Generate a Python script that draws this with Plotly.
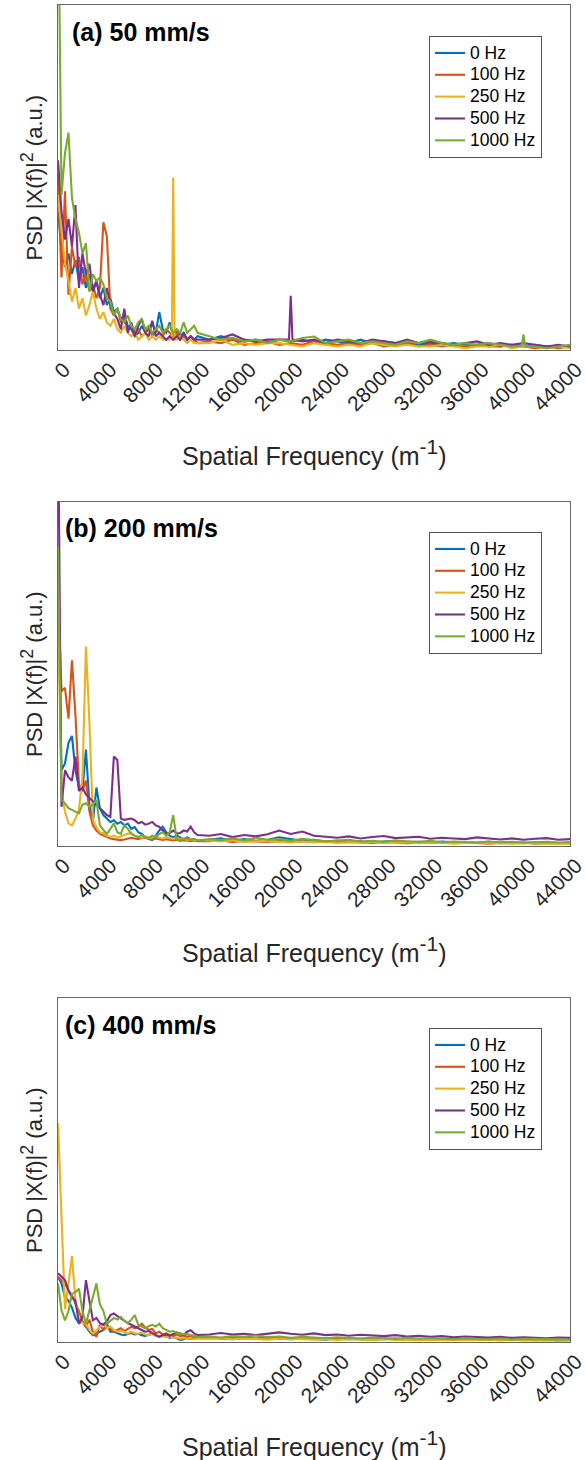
import plotly.graph_objects as go

# ---------------- data ----------------
x_near = [0, 300, 600, 900, 1200, 1500, 1800, 2100, 2400, 2700, 3000, 3300, 3600, 3900,
          4200, 4500, 4800, 5100, 5400, 5700, 6000, 6300, 6600, 6900, 7200, 7500, 7800,
          8100, 8400, 8700, 9000, 9300, 9600, 9900, 10200, 10500, 10800, 11100, 11400,
          11700, 12000]
x_far = [13000, 14000, 15000, 16000, 17000, 18000, 19000, 20000, 21000, 22000, 23000,
         24000, 25000, 26000, 27000, 28000, 29000, 30000, 31000, 32000, 33000, 34000,
         35000, 36000, 37000, 38000, 39000, 40000, 41000, 42000, 43000, 44000]
x_ticks = [0, 4000, 8000, 12000, 16000, 20000, 24000, 28000, 32000, 36000, 40000, 44000]
series_names = ["0 Hz", "100 Hz", "250 Hz", "500 Hz", "1000 Hz"]
colors = ["#0072BD", "#D95319", "#EDB120", "#7E2F8E", "#77AC30"]
panel_titles = ["(a) 50 mm/s", "(b) 200 mm/s", "(c) 400 mm/s"]

# panel (a) 50 mm/s
a_blue_near = [40, 30, 24, 28, 22, 26, 20, 24, 18, 22, 17, 20, 15, 18, 13, 15, 11, 12, 9, 10, 7, 6, 4, 5, 7, 5, 6, 8, 5, 11, 6, 5, 8, 4, 6, 4, 5, 3, 4, 3, 4]
a_orange_near = [50, 21, 46, 16, 30, 24, 27, 19, 22, 17, 19, 15, 18, 37, 33, 12, 10, 12, 8, 9, 6, 7, 5, 6, 4, 5, 7, 4, 6, 5, 4, 6, 5, 4, 5, 3, 4, 3, 4, 3, 2]
a_yellow_near = [45, 35, 25, 20, 14, 18, 12, 15, 10, 13, 17, 12, 9, 11, 8, 7, 9, 6, 5, 7, 5, 4, 5, 3, 4, 5, 3, 4, 3, 4, 3, 3, 3, 50, 3, 4, 3, 2, 3, 2, 2]
a_purple_near = [55, 40, 32, 38, 30, 42, 18, 28, 22, 25, 17, 20, 16, 13, 18, 13, 10.6, 9, 6, 12, 5, 8, 4, 7, 9, 5, 4, 8.5, 4, 5, 4, 3, 4, 3, 4, 3, 5, 3, 4, 3, 3]
a_green_near = [140, 45, 57, 63, 44, 38, 34, 28, 31, 17, 22, 20, 21, 19, 15, 14, 10, 12, 9, 8, 10, 7, 6, 8, 9, 6, 7, 5, 6, 7, 5, 6, 7, 5, 6, 5, 8, 5, 6, 7, 5]
a_blue_far = [3, 4, 3, 2.5, 3, 2, 3, 2.5, 3, 2, 3, 2.5, 2, 3, 2, 2.5, 2, 2, 1.5, 2, 1.5, 2, 1.5, 1.5, 2, 1, 1.5, 1, 1.5, 1, 1, 1]
a_orange_far = [2.5, 2, 3, 1.5, 2, 2.5, 1.5, 2, 1.5, 2.5, 2, 1.5, 2, 1.5, 2, 1, 1.5, 2, 1, 1.5, 1, 1.5, 1, 1.5, 1, 1, 1.5, 1, 0.5, 1, 0.5, 1]
a_yellow_far = [2, 3, 1.5, 2, 1.5, 2, 2, 1.5, 1, 2, 1.5, 1, 1.5, 1, 2, 1.5, 1, 1.5, 1, 1, 1.5, 1, 0.5, 1, 1, 1.5, 0.5, 1, 1, 0.5, 1, 0.5]
a_purple_far = [3, 3.5, 4.5, 3, 2.5, 3, 3, 15.7, 2.5, 3, 2, 3, 2.5, 2, 3, 2.5, 2, 3, 2, 2.5, 2, 1.5, 2, 2.5, 1.5, 2, 1.5, 2, 1.5, 1, 1.5, 1]
a_green_far = [4, 3, 3.5, 2.5, 3, 2, 3, 2.5, 3.5, 3.9, 2, 2.5, 3, 2, 2.5, 2, 1.5, 2.5, 2, 3, 2, 1.5, 2, 1.5, 2, 1.5, 1, 4.5, 1, 0.5, 1, 1.5]
a_yellow_spike_x = [9780, 10020]
a_yellow_spike_y = [3.5, 3]
a_purple_spike_x = [19850, 20150]
a_purple_spike_y = [3, 3]
a_green_spike_x = [39850, 40150]
a_green_spike_y = [1.2, 1]

# panel (b) 200 mm/s
b_blue_near = [80, 22, 24, 30, 32, 22, 17, 16, 28, 12, 7, 17, 11, 9, 8, 7, 7.5, 6.5, 7, 6, 6.5, 5, 5.5, 4, 3.5, 2.5, 2, 1.7, 3, 4.5, 5.6, 4, 3, 2.5, 3, 2.5, 2, 2.5, 2, 2, 1.5]
b_orange_near = [75, 45, 46, 37, 54, 38, 18, 16, 19, 10, 6, 4.5, 3.5, 3, 2.7, 2.2, 2, 1.8, 1.7, 1.9, 2.1, 2.4, 2.2, 2, 2.3, 2.5, 2.1, 1.9, 2.2, 2, 1.8, 2, 1.7, 1.6, 1.8, 1.5, 1.7, 1.5, 1.4, 1.6, 1.4]
b_yellow_near = [70, 16, 10, 6.6, 6, 8, 10.5, 20, 58, 36, 7.6, 5.5, 4, 3.7, 3, 2.7, 3, 2.5, 2.8, 3.2, 3.6, 3.7, 3, 2.7, 2.4, 2.8, 2.3, 2.5, 2.8, 2.4, 2.2, 2.5, 2.3, 2.1, 2.4, 2, 2.2, 1.8, 2, 1.7, 1.8]
b_purple_near = [130, 11.4, 22, 20, 19, 26, 16, 17, 15, 14, 13, 12, 11, 10, 9, 8.5, 26, 25, 8, 7.6, 7.8, 8, 7.5, 6.6, 7, 6.2, 6.5, 7, 6, 5.6, 4.5, 3.6, 3.8, 4.5, 3.6, 3.8, 4.5, 4.2, 5.6, 4, 3.2]
b_green_near = [87, 13.4, 12.4, 11, 10.5, 10, 9.5, 12, 12.4, 11.4, 12, 13.4, 6, 4.7, 3.5, 5, 6.6, 4, 3.5, 6, 5, 3.5, 3, 2.5, 3.2, 2.6, 2.4, 3, 2.5, 3.5, 4, 3, 4, 9, 2, 1.7, 2, 2.2, 1.8, 2, 1.6]
b_blue_far = [1.8, 2.2, 1.5, 2, 1.5, 1.8, 2.5, 2, 1.5, 1.8, 1.3, 1.5, 1.2, 1.4, 1, 1.3, 1.5, 1.1, 1.2, 1, 1.3, 1.1, 0.9, 1, 1.2, 0.9, 1, 0.8, 1, 0.9, 0.8, 1]
b_orange_far = [1.4, 1.6, 1.2, 1.5, 1.3, 1.2, 1.5, 1.2, 1.4, 1.1, 1.3, 1, 1.2, 1.1, 0.9, 1.2, 1, 0.8, 1, 0.9, 1.1, 0.8, 1, 0.9, 0.7, 0.9, 0.8, 1, 0.7, 0.8, 0.7, 0.8]
b_yellow_far = [1.6, 1.3, 1.7, 1.2, 1.4, 1.5, 1.2, 1, 1.3, 1.1, 1.2, 0.9, 1.1, 1, 1.2, 0.9, 1, 1.1, 0.8, 1, 0.9, 0.7, 0.9, 1, 0.8, 0.9, 0.7, 0.8, 0.9, 0.7, 0.8, 0.7]
b_purple_far = [3, 3.5, 2.6, 3.2, 2.8, 3.4, 4.5, 3.5, 4.2, 3, 2.7, 2.4, 2.8, 2.2, 2.6, 2.9, 2.3, 2.5, 2.7, 2.1, 2.4, 2.2, 2, 2.5, 2.1, 1.9, 2.2, 1.8, 2.1, 2.3, 1.8, 2]
b_green_far = [2, 1.7, 2.2, 1.6, 2.4, 1.8, 2, 1.5, 2.1, 1.7, 1.4, 1.6, 1.8, 1.3, 1.5, 1.2, 1.6, 1.4, 1.2, 1.5, 1.1, 1.3, 1.2, 1, 1.3, 1.1, 1.2, 1, 1.1, 1.2, 1, 1.1]

# panel (c) 400 mm/s
c_blue_near = [19, 17, 13, 12, 10, 7, 5.5, 6, 4.5, 3, 2, 2.5, 3, 3.5, 5.3, 3, 3, 2.5, 2.2, 2, 2.3, 2.6, 2.2, 2.4, 2, 1.8, 2.1, 2.4, 1.8, 1.6, 2, 1.7, 1.2, 1.5, 1, 0.6, 0.8, 1.1, 0.9, 1, 1.1]
c_orange_near = [19, 18, 17, 15, 13.6, 11, 9, 6, 4.4, 6.5, 3, 1.5, 5, 3.5, 4.4, 3.8, 3, 3.5, 4, 3.2, 3.8, 4.4, 4, 4.5, 5.3, 4.2, 3.5, 3.8, 2.5, 3, 2.2, 2.6, 2, 1.8, 2.2, 1.7, 1.9, 1.5, 1.8, 1.3, 1.2]
c_yellow_near = [63.6, 35, 9.5, 17, 25, 12, 6.3, 5.5, 5.3, 3.5, 2.4, 3.4, 4.5, 5.3, 4, 4.5, 3.5, 3, 3.3, 2.8, 2.4, 3, 2.5, 2.4, 2.8, 2.2, 2, 2.3, 1.8, 1.5, 1.7, 1.4, 1.6, 1.2, 1.3, 1, 1.2, 0.9, 1, 0.8, 1]
c_purple_near = [20, 19, 18, 15, 13, 12, 5.3, 7.3, 18, 12, 6.3, 7, 5.5, 5, 6, 7.8, 8.3, 7.5, 6.8, 6.3, 5.5, 5, 4.4, 4, 3.5, 3, 3.2, 2.6, 2, 1.5, 2, 2.2, 1.8, 2.4, 2.8, 2.5, 2, 3, 3.4, 2.5, 2]
c_green_near = [17, 9.2, 6.3, 9, 14, 14.5, 15.5, 9, 5.3, 9, 13, 17, 11, 9, 5.3, 6.3, 7, 6.5, 7.3, 6.2, 5.5, 6.5, 7.8, 5, 4.5, 4, 4.6, 5, 4.5, 5.3, 4, 3.5, 3, 3.2, 2.6, 2.5, 2.2, 2.3, 2, 1.8, 1.5]
c_blue_far = [1.2, 1, 0.8, 1.1, 0.9, 1.2, 1, 0.8, 1, 0.9, 0.7, 1, 0.8, 0.9, 0.7, 0.8, 1, 0.7, 0.8, 0.6, 0.8, 0.7, 0.6, 0.8, 0.7, 0.5, 0.7, 0.6, 0.7, 0.5, 0.6, 0.5]
c_orange_far = [1.4, 1.1, 1.5, 1.2, 1, 1.3, 1.1, 0.9, 1.2, 1, 1.1, 0.8, 1, 0.9, 0.7, 1, 0.8, 0.9, 0.7, 0.8, 0.6, 0.8, 0.7, 0.6, 0.8, 0.6, 0.7, 0.5, 0.6, 0.7, 0.5, 0.6]
c_yellow_far = [0.9, 1.1, 0.8, 1, 0.9, 0.7, 1, 0.8, 0.9, 0.7, 0.8, 0.6, 0.8, 0.7, 0.6, 0.8, 0.6, 0.7, 0.5, 0.7, 0.6, 0.5, 0.7, 0.6, 0.5, 0.6, 0.5, 0.6, 0.4, 0.5, 0.6, 0.5]
c_purple_far = [2.2, 2.6, 2.2, 2.4, 2, 2.5, 2.8, 2.4, 2.1, 2.5, 2, 2.2, 1.8, 2.1, 1.9, 1.7, 2, 1.6, 1.8, 1.5, 1.7, 1.4, 1.6, 1.5, 1.3, 1.5, 1.2, 1.4, 1.3, 1.1, 1.3, 1.2]
c_green_far = [1.6, 1.3, 1.7, 1.5, 1.9, 1.4, 1.6, 1.2, 1.5, 1.3, 1.1, 1.4, 1.2, 1, 1.3, 1.1, 0.9, 1.2, 1, 1.1, 0.9, 0.8, 1, 0.9, 0.8, 1, 0.7, 0.9, 0.8, 0.7, 0.8, 0.7]

panels = [
    dict(near=[a_blue_near, a_orange_near, a_yellow_near, a_purple_near, a_green_near],
         far=[a_blue_far, a_orange_far, a_yellow_far, a_purple_far, a_green_far],
         extra={2: (a_yellow_spike_x, a_yellow_spike_y),
                3: (a_purple_spike_x, a_purple_spike_y),
                4: (a_green_spike_x, a_green_spike_y)}),
    dict(near=[b_blue_near, b_orange_near, b_yellow_near, b_purple_near, b_green_near],
         far=[b_blue_far, b_orange_far, b_yellow_far, b_purple_far, b_green_far],
         extra={}),
    dict(near=[c_blue_near, c_orange_near, c_yellow_near, c_purple_near, c_green_near],
         far=[c_blue_far, c_orange_far, c_yellow_far, c_purple_far, c_green_far],
         extra={}),
]

# ---------------- layout geometry (pixels) ----------------
W, H = 587, 1460
FONT = "Liberation Sans, Arial, Helvetica, sans-serif"
plot_left, plot_right = 58, 570
panel_tops = [5, 502, 998]
panel_bottoms = [350, 846, 1342]
legend_tops = [36, 532, 1028]
legend_right = 542
title_pos = [(70, 32), (63, 528), (63, 1025)]
xtitle_y = [453, 949, 1443]


def py(v):
    return 1 - v / H


fig = go.Figure()
layout = dict(width=W, height=H, margin=dict(l=0, r=0, t=0, b=0),
              paper_bgcolor="white", plot_bgcolor="white",
              font=dict(family=FONT, color="#262626"), showlegend=True)
annotations = []

for p, panel in enumerate(panels):
    sfx = "" if p == 0 else str(p + 1)
    xa, ya = "x" + sfx, "y" + sfx
    leg = "legend" + sfx
    for s in range(5):
        xs = x_near + x_far
        ys = panel["near"][s] + panel["far"][s]
        if s in panel["extra"]:
            ex, ey = panel["extra"][s]
            pts = sorted(zip(xs + ex, ys + ey))
            xs = [q[0] for q in pts]
            ys = [q[1] for q in pts]
        fig.add_trace(go.Scatter(x=xs, y=ys, mode="lines",
                                 name='<span style="font-size:17.5px">' + series_names[s] + '</span>',
                                 line=dict(color=colors[s], width=2.1),
                                 xaxis=xa, yaxis=ya, legend=leg))
    layout["xaxis" + sfx] = dict(
        domain=[plot_left / W, plot_right / W], anchor=ya, range=[0, 44000],
        tickmode="array", tickvals=x_ticks, ticktext=[str(t) for t in x_ticks],
        tickangle=-45, tickfont=dict(size=21, family=FONT, color="#262626"),
        ticklabelshift=6, ticklabelstandoff=-2,
        showline=True, mirror=True, linecolor="#666666", linewidth=1,
        showgrid=False, zeroline=False, ticks="", automargin=False)
    layout["yaxis" + sfx] = dict(
        domain=[py(panel_bottoms[p]), py(panel_tops[p])], anchor=xa, range=[0, 100],
        showticklabels=False, showline=True, mirror=True, linecolor="#666666",
        linewidth=1, showgrid=False, zeroline=False, ticks="", automargin=False)
    layout[leg] = dict(x=legend_right / W, y=py(legend_tops[p]), xanchor="right",
                       yanchor="top", bgcolor="white", bordercolor="#555555",
                       borderwidth=1, font=dict(size=14.5, family=FONT, color="black"),
                       tracegroupgap=0, itemwidth=30)
    # panel label
    annotations.append(dict(text="<b>" + panel_titles[p] + "</b>", xref="paper", yref="paper",
                            x=title_pos[p][0] / W, y=py(title_pos[p][1]), xanchor="left",
                            yanchor="middle", showarrow=False,
                            font=dict(size=25, family=FONT, color="black")))
    # y title
    annotations.append(dict(text='PSD |X(f)|<sup><span style="font-size:18px">2</span></sup> (a.u.)',
                            xref="paper", yref="paper",
                            x=32 / W, y=py((panel_tops[p] + panel_bottoms[p]) / 2),
                            xanchor="center", yanchor="middle", textangle=-90,
                            showarrow=False, font=dict(size=22, family=FONT, color="#262626")))
    # x title
    annotations.append(dict(text='Spatial Frequency (m<sup><span style="font-size:21px">-1</span></sup>)',
                            xref="paper", yref="paper",
                            x=(plot_left + plot_right) / 2 / W, y=py(xtitle_y[p]),
                            xanchor="center", yanchor="middle",
                            showarrow=False, font=dict(size=25, family=FONT, color="#262626")))

layout["annotations"] = annotations
fig.update_layout(**layout)
fig.write_html("out.html", config={"displayModeBar": False},
               post_script="document.body.style.margin='0px';document.body.style.overflow='hidden';")
